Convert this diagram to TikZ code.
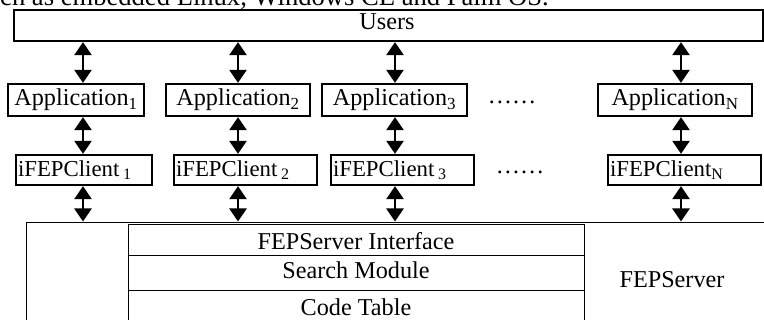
\documentclass[tikz,border=0pt]{standalone}
\usepackage{fontspec}
\setmainfont{Liberation Serif}
\usetikzlibrary{arrows.meta}
\begin{document}
\begin{tikzpicture}[x=1pt,y=-1pt,
  box/.style={draw,line width=1.3pt,inner sep=0pt,font=\fontsize{24.2}{28}\selectfont},
  cbox/.style={draw,line width=1.3pt,inner xsep=2pt,inner ysep=0pt,align=left,font=\fontsize{22.8}{26}\selectfont},
  lbl/.style={inner sep=0pt,font=\fontsize{24.2}{28}\selectfont},
  dbl/.style={line width=2.6pt,{Triangle[length=13pt,width=17pt]}-{Triangle[length=13pt,width=17pt]},shorten <=0.5pt,shorten >=0.5pt}
]
\useasboundingbox (0,0) rectangle (764,320);
\clip (0,0) rectangle (764,320);
\fill[white] (0,0) rectangle (764,320);
% cut-off line of text at top
\node[inner sep=0pt,font=\fontsize{26.6}{30}\selectfont,anchor=base east] (top) at (549,5.5) {such as embedded Linux, Windows CE and Palm OS.};
% columns
\coordinate (c1) at (83,0);
\coordinate (c2) at (238,0);
\coordinate (c3) at (395,0);
\coordinate (c4) at (681,0);
% users
\node[box,minimum width=749pt,minimum height=31pt] (u) at (388.5,25.5) {};
\node[lbl,anchor=base] (ut) at (387,29.5) {Users};
% applications
\node[box,minimum width=136pt,minimum height=32pt] (a1) at (76,100) {Application\textsubscript{1}};
\node[box,minimum width=144pt,minimum height=32pt] (a2) at (238,100) {Application\textsubscript{2}};
\node[box,minimum width=145pt,minimum height=32pt] (a3) at (394.5,100) {Application\textsubscript{3}};
\node[box,minimum width=154pt,minimum height=32pt] (an) at (675,100) {Application\textsubscript{N}};
\node[lbl] (d1) at (512,102) {……};
% clients
\node[cbox,text width=132pt,minimum height=30pt] (k1) at (84,170) {iFEPClient\,\textsubscript{1}};
\node[cbox,text width=139pt,minimum height=30pt] (k2) at (245.5,170) {iFEPClient\,\textsubscript{2}};
\node[cbox,text width=139pt,minimum height=30pt] (k3) at (402.5,170) {iFEPClient\,\textsubscript{3}};
\node[cbox,text width=149pt,minimum height=30pt] (kn) at (684.5,170) {iFEPClient\textsubscript{N}};
\node[lbl] (d2) at (520,172) {……};
% server
\node[draw,line width=1.3pt,inner sep=0pt,minimum width=760pt,minimum height=130pt,anchor=north west] (srv) at (26,222) {};
\node[lbl,anchor=base] (srvt) at (672,288) {FEPServer};
\node[draw,line width=1.3pt,inner sep=0pt,minimum width=456pt,minimum height=31pt,anchor=north west] (fi) at (128,224) {};
\node[draw,line width=1.3pt,inner sep=0pt,minimum width=456pt,minimum height=35pt,anchor=north west] (sm) at (128,255) {};
\node[draw,line width=1.3pt,inner sep=0pt,minimum width=456pt,minimum height=60pt,anchor=north west] (ct) at (128,290) {};
\node[lbl,anchor=base] (fit) at (356,249.5) {FEPServer Interface};
\node[lbl,anchor=base] (smt) at (356,278.5) {Search Module};
\node[lbl,anchor=base] (ctt) at (356,316) {Code Table};
% arrows
\draw[dbl] (u.south -| c1) -- (a1.north -| c1);
\draw[dbl] (u.south -| c2) -- (a2.north -| c2);
\draw[dbl] (u.south -| c3) -- (a3.north -| c3);
\draw[dbl] (u.south -| c4) -- (an.north -| c4);
\draw[dbl] (a1.south -| c1) -- (k1.north -| c1);
\draw[dbl] (a2.south -| c2) -- (k2.north -| c2);
\draw[dbl] (a3.south -| c3) -- (k3.north -| c3);
\draw[dbl] (an.south -| c4) -- (kn.north -| c4);
\draw[dbl] (k1.south -| c1) -- (srv.north -| c1);
\draw[dbl] (k2.south -| c2) -- (srv.north -| c2);
\draw[dbl] (k3.south -| c3) -- (srv.north -| c3);
\draw[dbl] (kn.south -| c4) -- (srv.north -| c4);
\end{tikzpicture}
\end{document}
